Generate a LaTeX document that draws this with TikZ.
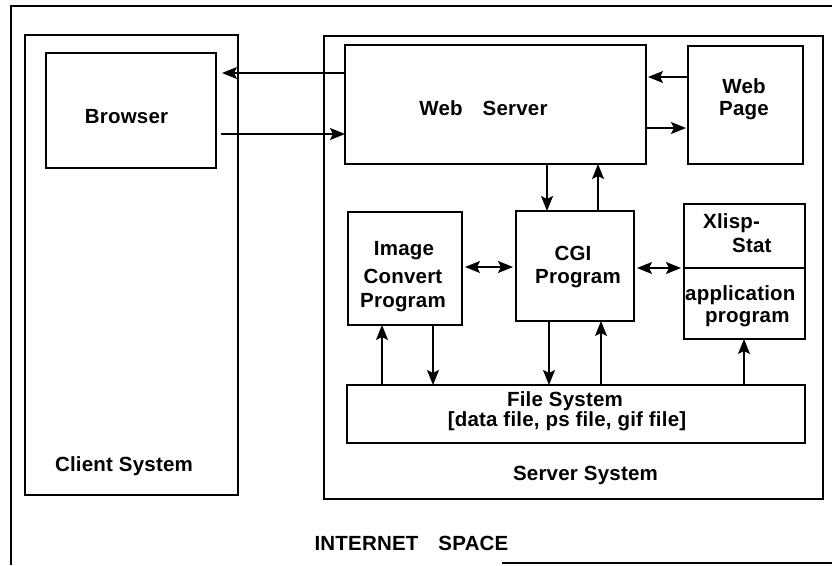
\documentclass[tikz,border=0pt]{standalone}
\usepackage{fontspec}
\setmainfont{Liberation Sans}[LetterSpace=1]
\usetikzlibrary{arrows.meta}
\begin{document}
\begin{tikzpicture}[x=1pt,y=-1pt,
  box/.style={draw, line width=1.4pt, inner sep=0pt, outer sep=0pt},
  lbl/.style={anchor=base, inner sep=0pt, font=\fontsize{20.5}{24}\selectfont\bfseries},
  lblw/.style={lbl, anchor=base west},
  tip/.tip={Stealth[length=15pt,width=12pt,inset=3pt]},
  arr/.style={line width=1.4pt, -tip},
  darr/.style={line width=1.4pt, tip-tip, shorten <=3pt, shorten >=3pt}]
\useasboundingbox (0,0) rectangle (832,565);

% outer frame of the internet space
\coordinate (otr) at (832,6);
\coordinate (otl) at (11,6);
\coordinate (obl) at (11,565);
\coordinate (obm) at (502,563);
\coordinate (obr) at (832,563);
\draw[line width=1.4pt] (otr) -- (otl) -- (obl);
\draw[line width=1.4pt] (obm) -- (obr);

% client side
\node[box, minimum width=213pt, minimum height=460pt] (client) at (131.5,265) {};
\node[box, minimum width=170pt, minimum height=115pt] (browser) at (131,110.5) {};

% server side
\node[box, minimum width=499pt, minimum height=463pt] (server) at (573.5,267.5) {};
\node[box, minimum width=301pt, minimum height=119pt] (websrv) at (495.5,104.5) {};
\node[box, minimum width=115pt, minimum height=118pt] (webpage) at (745.5,105) {};
\node[box, minimum width=114pt, minimum height=113pt] (image) at (405,268.5) {};
\node[box, minimum width=118pt, minimum height=110pt] (cgi) at (575,266) {};
\node[box, minimum width=121pt, minimum height=135pt] (xlisp) at (744.5,271.5) {};
\node[box, minimum width=458pt, minimum height=58pt] (files) at (576,414) {};
\coordinate (xdivl) at (684,268);
\coordinate (xdivr) at (805,268);
\draw[line width=1.4pt] (xdivl) -- (xdivr);

% labels
\node[lbl] (tbrowser) at (126.5,123) {Browser};
\node[lbl] (twebsrv) at (483.5,115) {Web\hspace{20pt}Server};
\node[lbl] (twp1) at (744,93) {Web};
\node[lbl] (twp2) at (744,115) {Page};
\node[lbl] (tim1) at (404,255) {Image};
\node[lbl] (tim2) at (403,283) {Convert};
\node[lbl] (tim3) at (403,307) {Program};
\node[lbl] (tcgi1) at (573,260) {CGI};
\node[lbl] (tcgi2) at (578,283) {Program};
\node[lblw] (tx1) at (703,228) {Xlisp-};
\node[lblw] (tx2) at (732,252) {Stat};
\node[lblw] (tx3) at (685,300) {application};
\node[lblw] (tx4) at (705,322) {program};
\node[lbl] (tfs1) at (565,406) {File\hspace{6pt}System};
\node[lbl] (tfs2) at (567,426) {[data file, ps file, gif file]};
\node[lbl] (tclient) at (124,471) {Client System};
\node[lbl] (tserver) at (585.5,480) {Server\hspace{6pt}System};
\node[lbl] (tinet) at (411.5,550) {INTERNET\hspace{20pt}SPACE};

% browser <-> web server
\draw[arr] (websrv.west |- 0,73) -- ([xshift=6pt]browser.east |- 0,73);
\draw[arr] ([xshift=5pt]browser.east |- 0,134) -- (websrv.west |- 0,134);

% web page <-> web server
\draw[arr] (webpage.west |- 0,77) -- ([xshift=2pt]websrv.east |- 0,77);
\draw[arr] (websrv.east |- 0,128) -- ([xshift=-2pt]webpage.west |- 0,128);

% web server <-> CGI program
\draw[arr] (websrv.south -| 547,0) -- (cgi.north -| 547,0);
\draw[arr] (cgi.north -| 598,0) -- (websrv.south -| 598,0);

% CGI program <-> image converter and Xlisp-Stat
\draw[darr] (image.east |- 0,267) -- (cgi.west |- 0,267);
\draw[darr] (cgi.east |- 0,268) -- (xlisp.west |- 0,268);

% programs <-> file system
\draw[arr] (files.north -| 382,0) -- (image.south -| 382,0);
\draw[arr] (image.south -| 433,0) -- (files.north -| 433,0);
\draw[arr] (cgi.south -| 549,0) -- (files.north -| 549,0);
\draw[arr] (files.north -| 601,0) -- (cgi.south -| 601,0);
\draw[arr] (files.north -| 744,0) -- (xlisp.south -| 744,0);
\end{tikzpicture}
\end{document}
